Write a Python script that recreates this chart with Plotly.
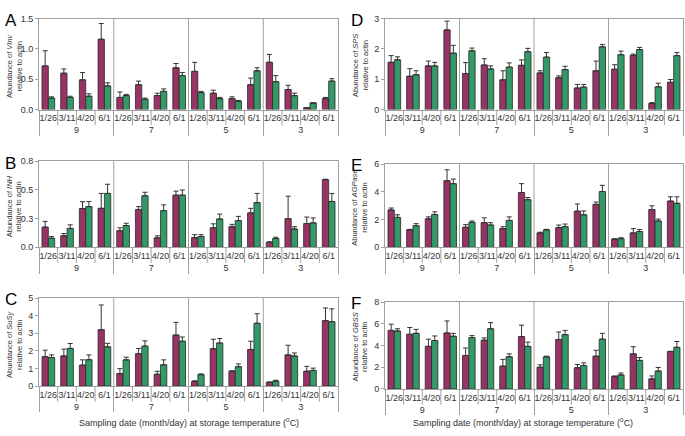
import plotly.graph_objects as go
from plotly.subplots import make_subplots

temps = ["9", "7", "5", "3"]
dates = ["1/26", "3/11", "4/20", "6/1"]

# panel A - VInv
vinv_p = [0.72, 0.60, 0.49, 1.16, 0.20, 0.41, 0.23, 0.69, 0.63, 0.27, 0.18, 0.41, 0.78, 0.33, 0.03, 0.18]
vinv_p_err = [0.25, 0.07, 0.12, 0.26, 0.09, 0.06, 0.04, 0.07, 0.15, 0.05, 0.03, 0.11, 0.13, 0.07, 0.0, 0.02]
vinv_g = [0.19, 0.20, 0.22, 0.39, 0.23, 0.17, 0.30, 0.56, 0.28, 0.18, 0.14, 0.64, 0.46, 0.23, 0.11, 0.47]
vinv_g_err = [0.02, 0.02, 0.04, 0.05, 0.02, 0.02, 0.04, 0.05, 0.02, 0.02, 0.01, 0.05, 0.10, 0.04, 0.0, 0.04]

# panel B - INH
inh_p = [0.176, 0.10, 0.338, 0.34, 0.145, 0.33, 0.082, 0.455, 0.085, 0.17, 0.18, 0.30, 0.043, 0.25, 0.207, 0.59]
inh_p_err = [0.05, 0.02, 0.06, 0.13, 0.025, 0.025, 0.018, 0.035, 0.025, 0.035, 0.02, 0.04, 0.005, 0.196, 0.057, 0.004]
inh_g = [0.079, 0.165, 0.355, 0.47, 0.19, 0.45, 0.32, 0.455, 0.094, 0.247, 0.233, 0.39, 0.077, 0.16, 0.213, 0.40]
inh_g_err = [0.014, 0.031, 0.045, 0.08, 0.02, 0.03, 0.05, 0.045, 0.016, 0.043, 0.037, 0.08, 0.011, 0.02, 0.043, 0.07]

# panel C - SuSy
susy_p = [1.67, 1.71, 1.19, 3.20, 0.71, 1.84, 0.67, 2.90, 0.26, 2.12, 0.84, 2.08, 0.22, 1.77, 0.84, 3.72]
susy_p_err = [0.37, 0.39, 0.30, 1.41, 0.28, 0.30, 0.17, 0.72, 0.04, 0.54, 0.03, 0.47, 0.0, 0.55, 0.28, 0.72]
susy_g = [1.62, 2.14, 1.50, 2.23, 1.49, 2.27, 1.21, 2.55, 0.65, 2.45, 1.10, 3.57, 0.28, 1.71, 0.89, 3.66]
susy_g_err = [0.15, 0.28, 0.27, 0.20, 0.15, 0.30, 0.28, 0.24, 0.04, 0.25, 0.16, 0.54, 0.05, 0.17, 0.13, 0.73]

# panel D - SPS
sps_p = [1.56, 1.10, 1.44, 2.63, 1.19, 1.47, 0.98, 1.46, 1.21, 1.05, 0.71, 1.28, 1.33, 1.79, 0.20, 0.90]
sps_p_err = [0.22, 0.25, 0.16, 0.29, 0.36, 0.21, 0.30, 0.18, 0.07, 0.06, 0.12, 0.32, 0.15, 0.04, 0.03, 0.09]
sps_g = [1.64, 1.15, 1.44, 1.86, 1.94, 1.34, 1.40, 1.91, 1.73, 1.32, 0.74, 2.07, 1.81, 1.98, 0.75, 1.78]
sps_g_err = [0.10, 0.13, 0.12, 0.26, 0.09, 0.10, 0.14, 0.11, 0.15, 0.11, 0.09, 0.08, 0.12, 0.07, 0.12, 0.10]

# panel E - AGPase
agp_p = [2.70, 1.26, 2.06, 4.81, 1.45, 1.78, 1.35, 3.96, 1.04, 1.42, 2.61, 3.10, 0.59, 1.04, 2.73, 3.34]
agp_p_err = [0.14, 0.04, 0.14, 0.79, 0.19, 0.35, 0.14, 0.64, 0.05, 0.19, 0.52, 0.17, 0.03, 0.31, 0.27, 0.31]
agp_g = [2.16, 1.56, 2.37, 4.60, 1.80, 1.61, 1.94, 3.44, 1.26, 1.49, 2.35, 4.03, 0.62, 1.14, 1.90, 3.18]
agp_g_err = [0.19, 0.15, 0.19, 0.33, 0.10, 0.17, 0.26, 0.16, 0.04, 0.19, 0.28, 0.45, 0.07, 0.14, 0.14, 0.47]

# panel F - GBSS
gbss_p = [5.39, 5.03, 3.92, 5.15, 3.08, 4.49, 2.10, 4.82, 2.00, 4.55, 1.95, 3.02, 1.14, 3.23, 0.93, 3.44]
gbss_p_err = [0.57, 0.63, 0.66, 1.11, 0.69, 0.21, 0.62, 1.05, 0.22, 0.69, 0.30, 0.54, 0.06, 0.66, 0.27, 0.03]
gbss_g = [5.33, 5.12, 4.46, 4.85, 4.73, 5.54, 2.96, 3.92, 2.96, 5.00, 2.16, 4.58, 1.29, 2.63, 1.65, 3.83]
gbss_g_err = [0.21, 0.36, 0.42, 0.27, 0.18, 0.57, 0.27, 0.39, 0.06, 0.39, 0.24, 0.54, 0.18, 0.27, 0.33, 0.54]

PURPLE = "#993366"
GREEN = "#339966"
LINE = "#a0a0a0"
FONT = "Liberation Sans, Arial, sans-serif"

x_outer = [t for t in temps for _ in dates]
x_inner = [d for _ in temps for d in dates]

panels = [
    # letter, gene, row, col, purple, perr, green, gerr, ymax, dtick, fmt
    ("A", "VInv", 1, 1, vinv_p, vinv_p_err, vinv_g, vinv_g_err, 1.5, 0.5, ".1f"),
    ("B", "INH", 2, 1, inh_p, inh_p_err, inh_g, inh_g_err, 0.75, 0.25, ".1f"),
    ("C", "SuSy", 3, 1, susy_p, susy_p_err, susy_g, susy_g_err, 5, 1, "d"),
    ("D", "SPS", 1, 2, sps_p, sps_p_err, sps_g, sps_g_err, 3, 1, "d"),
    ("E", "AGPase", 2, 2, agp_p, agp_p_err, agp_g, agp_g_err, 6, 2, "d"),
    ("F", "GBSS", 3, 2, gbss_p, gbss_p_err, gbss_g, gbss_g_err, 8, 2, "d"),
]

# pixel boxes of each plot area (left, right, top, bottom) in the 685x436 page
W, H = 685, 436
boxes = {
    "A": (39, 338, 14, 107),
    "B": (39, 338, 160, 248),
    "C": (39, 338, 300, 390),
    "D": (385, 683, 14, 107),
    "E": (385, 683, 163, 248),
    "F": (385, 683, 304, 393),
}

fig = make_subplots(rows=3, cols=2)

for letter, gene, r, c, pv, pe, gv, ge, ymax, dt, fmt in panels:
    for vals, errs, col in ((pv, pe, PURPLE), (gv, ge, GREEN)):
        fig.add_trace(
            go.Bar(
                x=[x_outer, x_inner],
                y=vals,
                marker=dict(color=col, line=dict(color="#2a2a2a", width=0.8)),
                error_y=dict(type="data", array=errs, arrayminus=[0] * len(errs),
                             symmetric=False, color="#333333", thickness=1, width=2.5),
                showlegend=False,
            ),
            row=r, col=c,
        )
    idx = (r - 1) * 2 + c
    xa = "xaxis" if idx == 1 else f"xaxis{idx}"
    ya = "yaxis" if idx == 1 else f"yaxis{idx}"
    xs = "x" if idx == 1 else f"x{idx}"
    ys = "y" if idx == 1 else f"y{idx}"
    left, right, top, bottom = boxes[letter]
    fig.layout[xa].update(
        domain=[left / W, right / W],
        type="multicategory",
        showline=True, linecolor=LINE, linewidth=1, mirror=True,
        ticks="outside", ticklen=0, tickcolor=LINE,
        showdividers=True, dividercolor=LINE, dividerwidth=1,
        tickfont=dict(size=9, color="#333333", family=FONT),
        showgrid=False,
    )
    fig.layout[ya].update(
        domain=[1 - bottom / H, 1 - top / H],
        range=[0, ymax], dtick=dt, tickformat=fmt,
        showline=True, linecolor=LINE, linewidth=1, mirror=True,
        ticks="outside", ticklen=3, tickcolor=LINE,
        showgrid=False, zeroline=False,
        tickfont=dict(size=9, color="#333333", family=FONT),
    )
    # separators: full-height between temperatures, short ticks between dates
    n = len(temps) * len(dates)
    for k in range(1, n):
        if k % len(dates) == 0:
            y0, y1 = 0, 1
        else:
            y0, y1 = 0, -16 / (bottom - top)
        fig.add_shape(type="line", xref=f"{xs} domain", yref=f"{ys} domain",
                      x0=k / n, x1=k / n, y0=y0, y1=y1,
                      line=dict(color=LINE, width=1))
    # panel letter
    fig.add_annotation(text=letter, xref="paper", yref="paper",
                       x=(left - 36) / W, y=1 - (top - 10) / H,
                       xanchor="left", yanchor="top", showarrow=False,
                       font=dict(size=17, color="black", family=FONT))
    # y-axis title
    fig.add_annotation(text=f"Abundance of <i>{gene}</i><br>relative to actin",
                       xref="paper", yref="paper",
                       x=(left - 25) / W, y=1 - ((top + bottom) / 2 + 2) / H,
                       xanchor="center", yanchor="middle", textangle=-90,
                       showarrow=False,
                       font=dict(size=7.5, color="#333333", family=FONT))

for cx in (189, 523):
    fig.add_annotation(text="Sampling date (month/day) at storage temperature (<sup>o</sup>C)",
                       xref="paper", yref="paper", x=cx / W, y=1 - 427 / H,
                       xanchor="center", yanchor="middle", showarrow=False,
                       font=dict(size=9, color="#333333", family=FONT))

fig.update_layout(
    width=W, height=H,
    margin=dict(l=0, r=0, t=0, b=0),
    barmode="group", bargap=0.32, bargroupgap=0,
    plot_bgcolor="white", paper_bgcolor="white",
    font=dict(family=FONT, size=9, color="#333333"),
)

fig.write_html("out.html", config={"displayModeBar": False},
               post_script="document.body.style.margin='0';")
